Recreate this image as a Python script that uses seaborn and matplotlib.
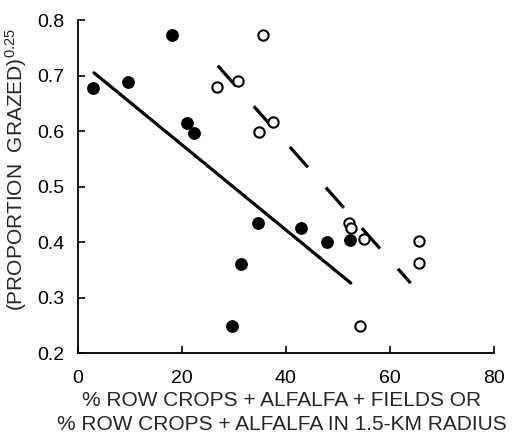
import matplotlib
matplotlib.use("Agg")
import matplotlib.pyplot as plt
import seaborn as sns
import pandas as pd

# Filled circles: % row crops + alfalfa + fields
filled_x = [2.9, 9.7, 18.1, 20.9, 22.3, 29.6, 31.3, 34.6, 43.0, 47.9, 52.3]
filled_y = [0.678, 0.689, 0.774, 0.615, 0.597, 0.249, 0.360, 0.434, 0.425, 0.401, 0.404]

# Open circles: % row crops + alfalfa in 1.5-km radius
open_x = [26.7, 30.8, 34.8, 35.6, 37.6, 52.2, 52.6, 54.2, 55.1, 65.6, 65.6]
open_y = [0.680, 0.691, 0.598, 0.774, 0.616, 0.434, 0.425, 0.249, 0.405, 0.402, 0.362]

# Fitted regression lines (endpoints)
solid_fit_x = [3.1, 52.5]
solid_fit_y = [0.705, 0.326]
dashed_fit_x = [26.9, 64.0]
dashed_fit_y = [0.718, 0.326]

x_ticks = [0, 20, 40, 60, 80]
y_ticks = [0.2, 0.3, 0.4, 0.5, 0.6, 0.7, 0.8]

sns.set_theme(style="ticks")
plt.rcParams["font.family"] = ["Liberation Sans", "DejaVu Sans"]
plt.rcParams["mathtext.fontset"] = "custom"
plt.rcParams["mathtext.rm"] = "Liberation Sans"
plt.rcParams["mathtext.it"] = "Liberation Sans"

fig = plt.figure(figsize=(5.16, 4.38), dpi=100)
ax = fig.add_axes([0.151, 0.194, 0.806, 0.760])

df_f = pd.DataFrame({"x": filled_x, "y": filled_y})
df_o = pd.DataFrame({"x": open_x, "y": open_y})
df_s = pd.DataFrame({"x": solid_fit_x, "y": solid_fit_y})
df_d = pd.DataFrame({"x": dashed_fit_x, "y": dashed_fit_y})

sns.lineplot(data=df_s, x="x", y="y", ax=ax, color="black", lw=2.3)
l = sns.lineplot(data=df_d, x="x", y="y", ax=ax, color="black", lw=2.3)
l.lines[-1].set_dashes([8.5, 8.5])

sns.scatterplot(data=df_f, x="x", y="y", ax=ax, color="black", s=85,
                edgecolor="black", linewidth=0, zorder=3)
sns.scatterplot(data=df_o, x="x", y="y", ax=ax, facecolor="white", s=55,
                edgecolor="black", linewidth=1.5, zorder=3)

ax.set_xlim(0, 80)
ax.set_ylim(0.2, 0.8)
ax.set_xticks(x_ticks)
ax.set_yticks(y_ticks)
ax.set_xticklabels([str(t) for t in x_ticks])
ax.set_yticklabels([f"{t:.1f}" for t in y_ticks])
ax.tick_params(direction="in", length=5, width=1.2, labelsize=14, colors="black")
ax.tick_params(axis="x", pad=12)
ax.tick_params(axis="y", pad=10)
for s in ["top", "right"]:
    ax.spines[s].set_visible(False)
for s in ["left", "bottom"]:
    ax.spines[s].set_linewidth(1.3)
    ax.spines[s].set_color("black")

ax.set_xlabel("% ROW CROPS + ALFALFA + FIELDS OR\n% ROW CROPS + ALFALFA IN 1.5-KM RADIUS",
              fontsize=15, linespacing=1.3)
ax.xaxis.set_label_coords(0.49, -0.115)
ax.set_ylabel("(PROPORTION  GRAZED)$^{0.25}$", fontsize=15)
ax.yaxis.set_label_coords(-0.118, 0.55)

fig.savefig("out.png", dpi=100, facecolor="white")
